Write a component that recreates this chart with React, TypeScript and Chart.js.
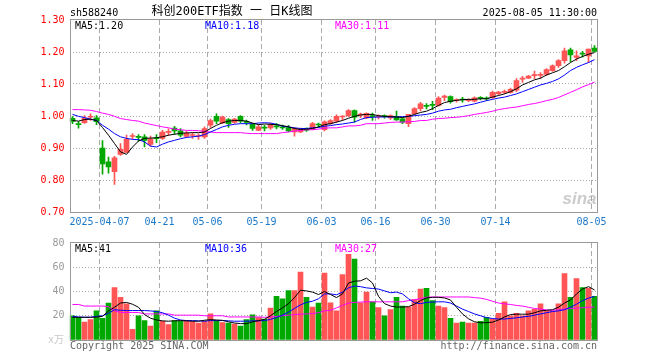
import React, { useEffect, useRef } from "react";
import { Chart, registerables } from "chart.js";

Chart.register(...registerables);

// ---------------- data ----------------
const dates = [
  "2025-03-28", "2025-03-31", "2025-04-01", "2025-04-02", "2025-04-03",
  "2025-04-07", "2025-04-08", "2025-04-09", "2025-04-10", "2025-04-11",
  "2025-04-14", "2025-04-15", "2025-04-16", "2025-04-17", "2025-04-18",
  "2025-04-21", "2025-04-22", "2025-04-23", "2025-04-24", "2025-04-25",
  "2025-04-28", "2025-04-29", "2025-04-30",
  "2025-05-06", "2025-05-07", "2025-05-08", "2025-05-09",
  "2025-05-12", "2025-05-13", "2025-05-14", "2025-05-15", "2025-05-16",
  "2025-05-19", "2025-05-20", "2025-05-21", "2025-05-22", "2025-05-23",
  "2025-05-26", "2025-05-27", "2025-05-28", "2025-05-29", "2025-05-30",
  "2025-06-03", "2025-06-04", "2025-06-05", "2025-06-06",
  "2025-06-09", "2025-06-10", "2025-06-11", "2025-06-12", "2025-06-13",
  "2025-06-16", "2025-06-17", "2025-06-18", "2025-06-19", "2025-06-20",
  "2025-06-23", "2025-06-24", "2025-06-25", "2025-06-26", "2025-06-27",
  "2025-06-30", "2025-07-01", "2025-07-02", "2025-07-03", "2025-07-04",
  "2025-07-07", "2025-07-08", "2025-07-09", "2025-07-10", "2025-07-11",
  "2025-07-14", "2025-07-15", "2025-07-16", "2025-07-17", "2025-07-18",
  "2025-07-21", "2025-07-22", "2025-07-23", "2025-07-24", "2025-07-25",
  "2025-07-28", "2025-07-29", "2025-07-30", "2025-07-31", "2025-08-01",
  "2025-08-04", "2025-08-05",
];

const tickDates = ["2025-04-07", "2025-04-21", "2025-05-06", "2025-05-19", "2025-06-03", "2025-06-16", "2025-06-30", "2025-07-14", "2025-08-05"];
const tickTexts = ["2025-04-07", "04-21", "05-06", "05-19", "06-03", "06-16", "06-30", "07-14", "08-05"];

const open = [
  0.993, 0.975, 0.979, 0.996, 0.994, 0.900, 0.857, 0.826, 0.880, 0.886,
  0.936, 0.935, 0.935, 0.911, 0.931, 0.930, 0.949, 0.962, 0.954, 0.936,
  0.939, 0.936, 0.935, 0.971, 0.999, 0.978, 0.989, 0.980, 0.999, 0.983,
  0.974, 0.955, 0.964, 0.963, 0.968, 0.965, 0.964, 0.950, 0.950, 0.958,
  0.960, 0.975, 0.957, 0.976, 0.984, 0.997, 1.001, 1.017, 1.003, 0.994,
  1.001, 0.997, 1.000, 0.994, 0.999, 0.991, 0.976, 1.007, 1.023, 1.033,
  1.035, 1.033, 1.058, 1.061, 1.048, 1.053, 1.048, 1.046, 1.057, 1.056,
  1.057, 1.070, 1.074, 1.074, 1.081, 1.115, 1.118, 1.126, 1.127, 1.130,
  1.142, 1.157, 1.173, 1.207, 1.183, 1.195, 1.188, 1.212,
];
const high = [
  0.998, 0.983, 1.001, 1.007, 1.001, 0.923, 0.872, 0.874, 0.914, 0.940,
  0.945, 0.942, 0.942, 0.937, 0.942, 0.955, 0.960, 0.968, 0.961, 0.952,
  0.948, 0.944, 0.966, 0.990, 1.007, 1.000, 0.992, 0.993, 1.001, 0.987,
  0.976, 0.973, 0.971, 0.977, 0.976, 0.972, 0.971, 0.964, 0.962, 0.963,
  0.980, 0.978, 0.985, 0.989, 1.004, 1.001, 1.020, 1.019, 1.009, 1.010,
  1.009, 1.004, 1.004, 1.004, 1.015, 0.994, 1.005, 1.026, 1.043, 1.039,
  1.046, 1.061, 1.065, 1.063, 1.054, 1.058, 1.054, 1.060, 1.061, 1.060,
  1.078, 1.077, 1.081, 1.087, 1.117, 1.124, 1.127, 1.140, 1.136, 1.148,
  1.160, 1.176, 1.212, 1.212, 1.204, 1.202, 1.209, 1.220,
];
const low = [
  0.976, 0.962, 0.977, 0.986, 0.973, 0.818, 0.821, 0.786, 0.877, 0.886,
  0.928, 0.921, 0.903, 0.905, 0.917, 0.927, 0.939, 0.943, 0.935, 0.932,
  0.930, 0.927, 0.930, 0.964, 0.976, 0.976, 0.964, 0.977, 0.978, 0.972,
  0.955, 0.954, 0.953, 0.958, 0.960, 0.958, 0.950, 0.937, 0.948, 0.952,
  0.957, 0.966, 0.953, 0.974, 0.980, 0.987, 0.998, 0.981, 0.995, 0.992,
  0.986, 0.991, 0.993, 0.989, 0.986, 0.976, 0.967, 1.005, 1.016, 1.022,
  1.020, 1.031, 1.048, 1.040, 1.043, 1.043, 1.045, 1.044, 1.050, 1.049,
  1.055, 1.066, 1.070, 1.071, 1.076, 1.105, 1.117, 1.117, 1.118, 1.127,
  1.139, 1.152, 1.165, 1.170, 1.173, 1.184, 1.167, 1.200,
];
const close = [
  0.983, 0.973, 0.993, 0.998, 0.982, 0.850, 0.841, 0.869, 0.896, 0.927,
  0.939, 0.933, 0.924, 0.929, 0.929, 0.950, 0.952, 0.953, 0.940, 0.947,
  0.941, 0.938, 0.961, 0.986, 0.984, 0.997, 0.976, 0.990, 0.984, 0.980,
  0.961, 0.966, 0.962, 0.973, 0.966, 0.963, 0.953, 0.961, 0.958, 0.956,
  0.976, 0.972, 0.982, 0.986, 0.999, 1.000, 1.017, 0.996, 1.006, 1.008,
  0.998, 0.999, 0.998, 1.001, 0.988, 0.981, 1.005, 1.023, 1.038, 1.030,
  1.033, 1.056, 1.062, 1.045, 1.051, 1.050, 1.051, 1.057, 1.055, 1.053,
  1.074, 1.075, 1.077, 1.083, 1.111, 1.118, 1.125, 1.129, 1.130, 1.145,
  1.157, 1.173, 1.204, 1.191, 1.188, 1.193, 1.209, 1.202,
];

const ma5 = [
  0.986, 0.984, 0.989, 0.990, 0.986, 0.964, 0.940, 0.914, 0.888, 0.880,
  0.903, 0.922, 0.930, 0.931, 0.932, 0.935, 0.940, 0.943, 0.946, 0.947,
  0.948, 0.948, 0.950, 0.961, 0.971, 0.979, 0.984, 0.986, 0.986, 0.984,
  0.978, 0.973, 0.975, 0.974, 0.973, 0.970, 0.966, 0.961, 0.958, 0.959,
  0.961, 0.966, 0.973, 0.976, 0.981, 0.986, 0.993, 0.999, 1.003, 1.005,
  1.005, 1.001, 0.999, 0.998, 0.997, 0.995, 0.999, 1.005, 1.011, 1.015,
  1.023, 1.033, 1.042, 1.046, 1.049, 1.051, 1.052, 1.052, 1.054, 1.054,
  1.059, 1.064, 1.069, 1.076, 1.085, 1.097, 1.105, 1.113, 1.118, 1.128,
  1.135, 1.142, 1.154, 1.167, 1.178, 1.186, 1.193, 1.198,
];
const ma10 = [
  1.005, 0.999, 0.995, 0.990, 0.986, 0.971, 0.959, 0.945, 0.935, 0.930,
  0.927, 0.926, 0.919, 0.906, 0.903, 0.912, 0.919, 0.924, 0.929, 0.933,
  0.935, 0.937, 0.942, 0.950, 0.958, 0.966, 0.971, 0.974, 0.976, 0.976,
  0.976, 0.978, 0.979, 0.978, 0.974, 0.968, 0.966, 0.963, 0.961, 0.961,
  0.963, 0.964, 0.968, 0.970, 0.973, 0.975, 0.978, 0.981, 0.989, 0.995,
  0.996, 0.997, 0.997, 0.997, 0.997, 0.998, 0.999, 1.001, 1.003, 1.005,
  1.009, 1.015, 1.019, 1.021, 1.026, 1.030, 1.034, 1.038, 1.043, 1.048,
  1.052, 1.056, 1.059, 1.064, 1.069, 1.076, 1.083, 1.090, 1.097, 1.102,
  1.108, 1.116, 1.128, 1.142, 1.152, 1.160, 1.167, 1.176,
];
const ma30 = [
  1.020, 1.020, 1.019, 1.018, 1.014, 1.009, 1.005, 0.999, 0.992, 0.989,
  0.986, 0.984, 0.978, 0.974, 0.970, 0.966, 0.963, 0.959, 0.957, 0.955,
  0.955, 0.954, 0.952, 0.950, 0.948, 0.948, 0.948, 0.948, 0.948, 0.946,
  0.945, 0.945, 0.945, 0.945, 0.945, 0.948, 0.950, 0.953, 0.955, 0.957,
  0.957, 0.959, 0.962, 0.963, 0.963, 0.966, 0.969, 0.969, 0.971, 0.976,
  0.976, 0.976, 0.978, 0.980, 0.981, 0.981, 0.982, 0.983, 0.986, 0.986,
  0.990, 0.992, 0.993, 0.995, 0.996, 0.998, 1.001, 1.005, 1.008, 1.011,
  1.015, 1.020, 1.023, 1.026, 1.028, 1.032, 1.036, 1.039, 1.043, 1.048,
  1.052, 1.058, 1.066, 1.074, 1.082, 1.091, 1.098, 1.106,
];

const volume = [
  20, 18.7, 14.7, 16.8, 24, 17.9, 30.4, 43.2, 35.2, 29.9,
  8.8, 20, 16, 11.5, 24, 15.5, 12.8, 16, 15.5, 16,
  15.2, 13.9, 15.5, 21.6, 16, 14.4, 13.9, 13.1, 11.5, 16.8,
  20.8, 18.4, 17.3, 26.4, 36, 33.9, 40.8, 40.8, 56, 35.2,
  27.2, 30.4, 55.2, 30.7, 24, 53.9, 70.7, 66.7, 30.7, 39.5,
  31.5, 26.7, 20, 25.1, 35.2, 28, 27.2, 33.3, 41.9, 42.7,
  32.5, 28, 26.7, 17.9, 13.9, 14.7, 13.9, 13.9, 15.5, 18.7,
  17.3, 21.9, 31.5, 20, 21.9, 20, 24, 25.3, 29.9, 24,
  24, 29.9, 54.7, 35.2, 50.7, 43.2, 42.7, 36,
];
const volMa5 = [
  18.7, 18.7, 18.7, 18.7, 18.9, 19.5, 24, 27, 30.5, 31,
  29.5, 27, 21, 18, 16.5, 15.8, 15.5, 15.8, 16, 15.8,
  15.5, 15.5, 16.3, 16.8, 16.5, 16.2, 15, 14, 13.5, 13.5,
  15, 16, 17, 20, 23.5, 26.5, 30, 35, 41, 40.5,
  39.5, 37.5, 40, 37.5, 35, 38, 47, 48.5, 48.8, 51,
  47, 36, 30, 28, 27.2, 27.2, 27.5, 29.5, 32.5, 34.7,
  35.2, 35.2, 34.7, 33, 27, 21.5, 17.5, 15, 14.2, 14.3,
  14.7, 16.5, 19, 21, 21.3, 21.3, 21.3, 22.5, 24, 24.5,
  25, 27, 30.5, 33, 38, 42, 44, 41.3,
];
const volMa10 = [
  19.5, 19, 18.8, 18.8, 19.5, 20, 22, 25, 24.5, 24.3,
  24.3, 24.3, 24.3, 24, 23.5, 22.5, 20.5, 18, 16.5, 16,
  16, 15.8, 15.5, 16, 16, 16, 15.8, 15.5, 15.5, 15.5,
  15.8, 15.8, 16, 17, 18.5, 20.5, 23, 26, 29, 31,
  32, 34, 38, 38, 37.3, 39.5, 43, 44.5, 44, 43,
  42.5, 42, 40.5, 39, 39.5, 38, 34, 30.7, 30, 31,
  31.3, 31.5, 31.5, 30.5, 28, 25.5, 23.5, 21.5, 20, 18.5,
  17.7, 17.3, 17.3, 17.8, 18.3, 19, 19.5, 20.5, 21.5, 22.5,
  23.5, 24, 25, 27, 29.5, 32.5, 34.5, 36,
];
const volMa30 = [
  29.3, 29.3, 28, 28, 28, 28, 27.5, 24, 22.7, 22.7,
  22.7, 22.7, 21.5, 21.5, 21.5, 21.5, 21.5, 20.5, 20.5, 20.5,
  20.5, 20.5, 20, 20, 20, 20, 19, 19, 19, 19,
  19, 19, 18.7, 19, 19.5, 20, 20.5, 21, 21.3, 21.5,
  21.8, 22.5, 24, 24.5, 26.5, 28.5, 30.5, 31, 31.3, 31.5,
  31.5, 31.5, 31.5, 31.5, 31.5, 31.5, 32.5, 33.3, 34, 35.3,
  35.5, 35.5, 35.5, 35.5, 35.5, 35.5, 35.5, 35, 34.5, 33.5,
  32, 30.5, 29.8, 29.3, 28.5, 28, 27, 26, 25.5, 24.8,
  24.5, 25, 25.5, 26, 26.3, 26.6, 27, 27.2,
];

const priceTicks = [0.7, 0.8, 0.9, 1.0, 1.1, 1.2, 1.3];
const volTicks = [0, 20, 40, 60, 80];

const stockCode = "sh588240";
const chartTitle = "科创200ETF指数 一 日K线图";
const stamp = "2025-08-05 11:30:00";
const volUnit = "x万";
const copyright = "Copyright 2025 SINA.COM";
const siteUrl = "http://finance.sina.com.cn";

// ---------------- styles ----------------
const UP = "#ff5555";
const DOWN = "#00a800";
const C5 = "#000000";
const C10 = "#0000ff";
const C30 = "#ff00ff";
const GRID = "#aaaaaa";
const BOX = "#999999";
const MONO = '"DejaVu Sans Mono", "Liberation Mono", monospace';
const CJK = '"DejaVu Sans Mono", "Noto Sans CJK SC", monospace';
const CLEAR = "rgba(0,0,0,0)";

const isUp = (i: number) => close[i] >= open[i];
const barColor = (ctx: any) => (isUp(ctx.dataIndex) ? UP : DOWN);
const tickIndex = tickDates.map((d) => dates.indexOf(d));

const xGrid = {
  offset: true,
  drawTicks: false,
  lineWidth: 1,
  color: (ctx: any) =>
    ctx.type === "tick" && tickIndex.includes(ctx.index) ? GRID : CLEAR,
};

const lineDs = (label: string, data: number[], color: string) => ({
  type: "line" as const,
  label,
  data,
  borderColor: color,
  backgroundColor: color,
  borderWidth: 1,
  pointRadius: 0,
  tension: 0,
  fill: false,
});

function boxPlugin(id: string, draw: (ctx: CanvasRenderingContext2D, a: any) => void) {
  return {
    id,
    afterDraw(chart: any) {
      const ctx = chart.ctx as CanvasRenderingContext2D;
      const a = chart.chartArea;
      ctx.save();
      ctx.strokeStyle = BOX;
      ctx.lineWidth = 1;
      const L = Math.round(a.left) + 0.5;
      const T = Math.round(a.top) - 0.5;
      const R = Math.round(a.right) - 0.5;
      const B = Math.round(a.bottom) + 0.5;
      ctx.strokeRect(L, T, R - L, B - T);
      ctx.textBaseline = "middle";
      draw(ctx, a);
      ctx.restore();
    },
  };
}

const watermark = {
  id: "watermark",
  beforeDatasetsDraw(chart: any) {
    const ctx = chart.ctx as CanvasRenderingContext2D;
    const a = chart.chartArea;
    ctx.save();
    ctx.fillStyle = "rgba(160,160,160,0.55)";
    ctx.font = 'italic bold 17px "Liberation Sans", sans-serif';
    ctx.textAlign = "right";
    ctx.textBaseline = "alphabetic";
    ctx.fillText("sina", a.right - 1, a.bottom - 8);
    ctx.restore();
  },
};

const priceTexts = boxPlugin("priceTexts", (ctx, a) => {
  ctx.font = `10px ${MONO}`;
  ctx.fillStyle = "#000";
  ctx.textAlign = "left";
  ctx.fillText(stockCode, 70, 13);
  ctx.textAlign = "right";
  ctx.fillText(stamp, 597, 13);
  ctx.font = `12px ${CJK}`;
  ctx.textAlign = "center";
  ctx.fillText(chartTitle, 232, 12);
  ctx.font = `10px ${MONO}`;
  ctx.textAlign = "left";
  const y = a.top + 6;
  ctx.fillStyle = C5;
  ctx.fillText("MA5:" + ma5[ma5.length - 1].toFixed(2), a.left + 5.5, y);
  ctx.fillStyle = C10;
  ctx.fillText("MA10:" + ma10[ma10.length - 1].toFixed(2), a.left + 135.5, y);
  ctx.fillStyle = C30;
  ctx.fillText("MA30:" + ma30[ma30.length - 1].toFixed(2), a.left + 265.5, y);
});

const volTexts = boxPlugin("volTexts", (ctx, a) => {
  ctx.font = `10px ${MONO}`;
  ctx.textAlign = "left";
  const y = a.top + 6;
  ctx.fillStyle = C5;
  ctx.fillText("MA5:" + Math.round(volMa5[volMa5.length - 1]), a.left + 5.5, y);
  ctx.fillStyle = C10;
  ctx.fillText("MA10:" + Math.round(volMa10[volMa10.length - 1]), a.left + 135.5, y);
  ctx.fillStyle = C30;
  ctx.fillText("MA30:" + Math.round(volMa30[volMa30.length - 1]), a.left + 265.5, y);
  ctx.fillStyle = "#666";
  ctx.fillText(copyright, 70, a.bottom + 6);
  ctx.textAlign = "right";
  ctx.fillText(siteUrl, 597, a.bottom + 6);
  ctx.fillStyle = "#c8c8c8";
  ctx.font = `10px ${CJK}`;
  ctx.fillText(volUnit, 64, a.bottom);
});

function priceConfig(): any {
  return {
    type: "bar",
    data: {
      labels: dates,
      datasets: [
        lineDs("MA5", ma5, C5),
        lineDs("MA10", ma10, C10),
        lineDs("MA30", ma30, C30),
        {
          type: "bar",
          label: "body",
          data: open.map((o, i) => [o, close[i]]),
          backgroundColor: barColor,
          grouped: false,
          barPercentage: 1,
          categoryPercentage: 1,
          maxBarThickness: 5,
          minBarLength: 1,
        },
        {
          type: "bar",
          label: "wick",
          data: low.map((l, i) => [l, high[i]]),
          backgroundColor: barColor,
          grouped: false,
          barPercentage: 1,
          categoryPercentage: 1,
          maxBarThickness: 1,
        },
      ],
    },
    options: {
      animation: false,
      responsive: false,
      maintainAspectRatio: false,
      events: [],
      layout: { padding: { top: 20, right: 62.5, bottom: 0, left: 0 } },
      plugins: { legend: { display: false }, tooltip: { enabled: false }, title: { display: false } },
      scales: {
        x: {
          type: "category",
          offset: true,
          grid: xGrid,
          border: { display: false, dash: [5, 3] },
          ticks: {
            autoSkip: false,
            maxRotation: 0,
            minRotation: 0,
            padding: 4,
            labelOffset: -3,
            color: "#1c78c8",
            font: { family: MONO, size: 10 },
            callback: (_v: any, i: number) => {
              const k = tickIndex.indexOf(i);
              return k >= 0 ? tickTexts[k] : "";
            },
          },
          afterFit: (s: any) => {
            s.height = 20;
          },
        },
        y: {
          type: "linear",
          min: priceTicks[0],
          max: priceTicks[priceTicks.length - 1],
          afterBuildTicks: (s: any) => {
            s.ticks = priceTicks.map((v) => ({ value: v }));
          },
          grid: {
            drawTicks: false,
            lineWidth: 1,
            color: (ctx: any) =>
              ctx.type === "tick" && ctx.index > 0 && ctx.index < priceTicks.length - 1 ? GRID : CLEAR,
          },
          border: { display: false, dash: [1, 2] },
          ticks: {
            padding: 5,
            color: "#ff0000",
            font: { family: MONO, size: 10 },
            callback: (v: any) => Number(v).toFixed(2),
          },
          afterFit: (s: any) => {
            s.width = 69.5;
          },
        },
      },
    },
    plugins: [watermark, priceTexts],
  };
}

function volConfig(): any {
  return {
    type: "bar",
    data: {
      labels: dates,
      datasets: [
        lineDs("MA5", volMa5, C5),
        lineDs("MA10", volMa10, C10),
        lineDs("MA30", volMa30, C30),
        {
          type: "bar",
          label: "volume",
          data: volume,
          backgroundColor: barColor,
          grouped: false,
          barPercentage: 1,
          categoryPercentage: 1,
          maxBarThickness: 5,
        },
      ],
    },
    options: {
      animation: false,
      responsive: false,
      maintainAspectRatio: false,
      events: [],
      layout: { padding: { top: 8, right: 62.5, bottom: 0, left: 0 } },
      plugins: { legend: { display: false }, tooltip: { enabled: false }, title: { display: false } },
      scales: {
        x: {
          type: "category",
          offset: true,
          grid: xGrid,
          border: { display: false, dash: [5, 3] },
          ticks: { display: false, autoSkip: false },
          afterFit: (s: any) => {
            s.height = 20;
          },
        },
        y: {
          type: "linear",
          min: volTicks[0],
          max: volTicks[volTicks.length - 1],
          afterBuildTicks: (s: any) => {
            s.ticks = volTicks.map((v) => ({ value: v }));
          },
          grid: {
            drawTicks: false,
            lineWidth: 1,
            color: (ctx: any) =>
              ctx.type === "tick" && ctx.index > 0 && ctx.index < volTicks.length - 1 ? GRID : CLEAR,
          },
          border: { display: false, dash: [1, 2] },
          ticks: {
            padding: 5,
            color: "#999999",
            font: { family: MONO, size: 10 },
            callback: (v: any) => (Number(v) === 0 ? "" : String(v)),
          },
          afterFit: (s: any) => {
            s.width = 69.5;
          },
        },
      },
    },
    plugins: [volTexts],
  };
}

export default function App() {
  const priceRef = useRef<HTMLCanvasElement>(null);
  const volRef = useRef<HTMLCanvasElement>(null);

  useEffect(() => {
    const c1 = new Chart(priceRef.current as HTMLCanvasElement, priceConfig());
    const c2 = new Chart(volRef.current as HTMLCanvasElement, volConfig());
    return () => {
      c1.destroy();
      c2.destroy();
    };
  }, []);

  return (
    <div style={{ position: "absolute", left: 0, top: 0, width: 660, height: 360, background: "#fff" }}>
      <canvas
        ref={priceRef}
        width={660}
        height={232}
        style={{ position: "absolute", left: 0, top: 0, width: 660, height: 232 }}
      />
      <canvas
        ref={volRef}
        width={660}
        height={128}
        style={{ position: "absolute", left: 0, top: 232, width: 660, height: 128 }}
      />
    </div>
  );
}
